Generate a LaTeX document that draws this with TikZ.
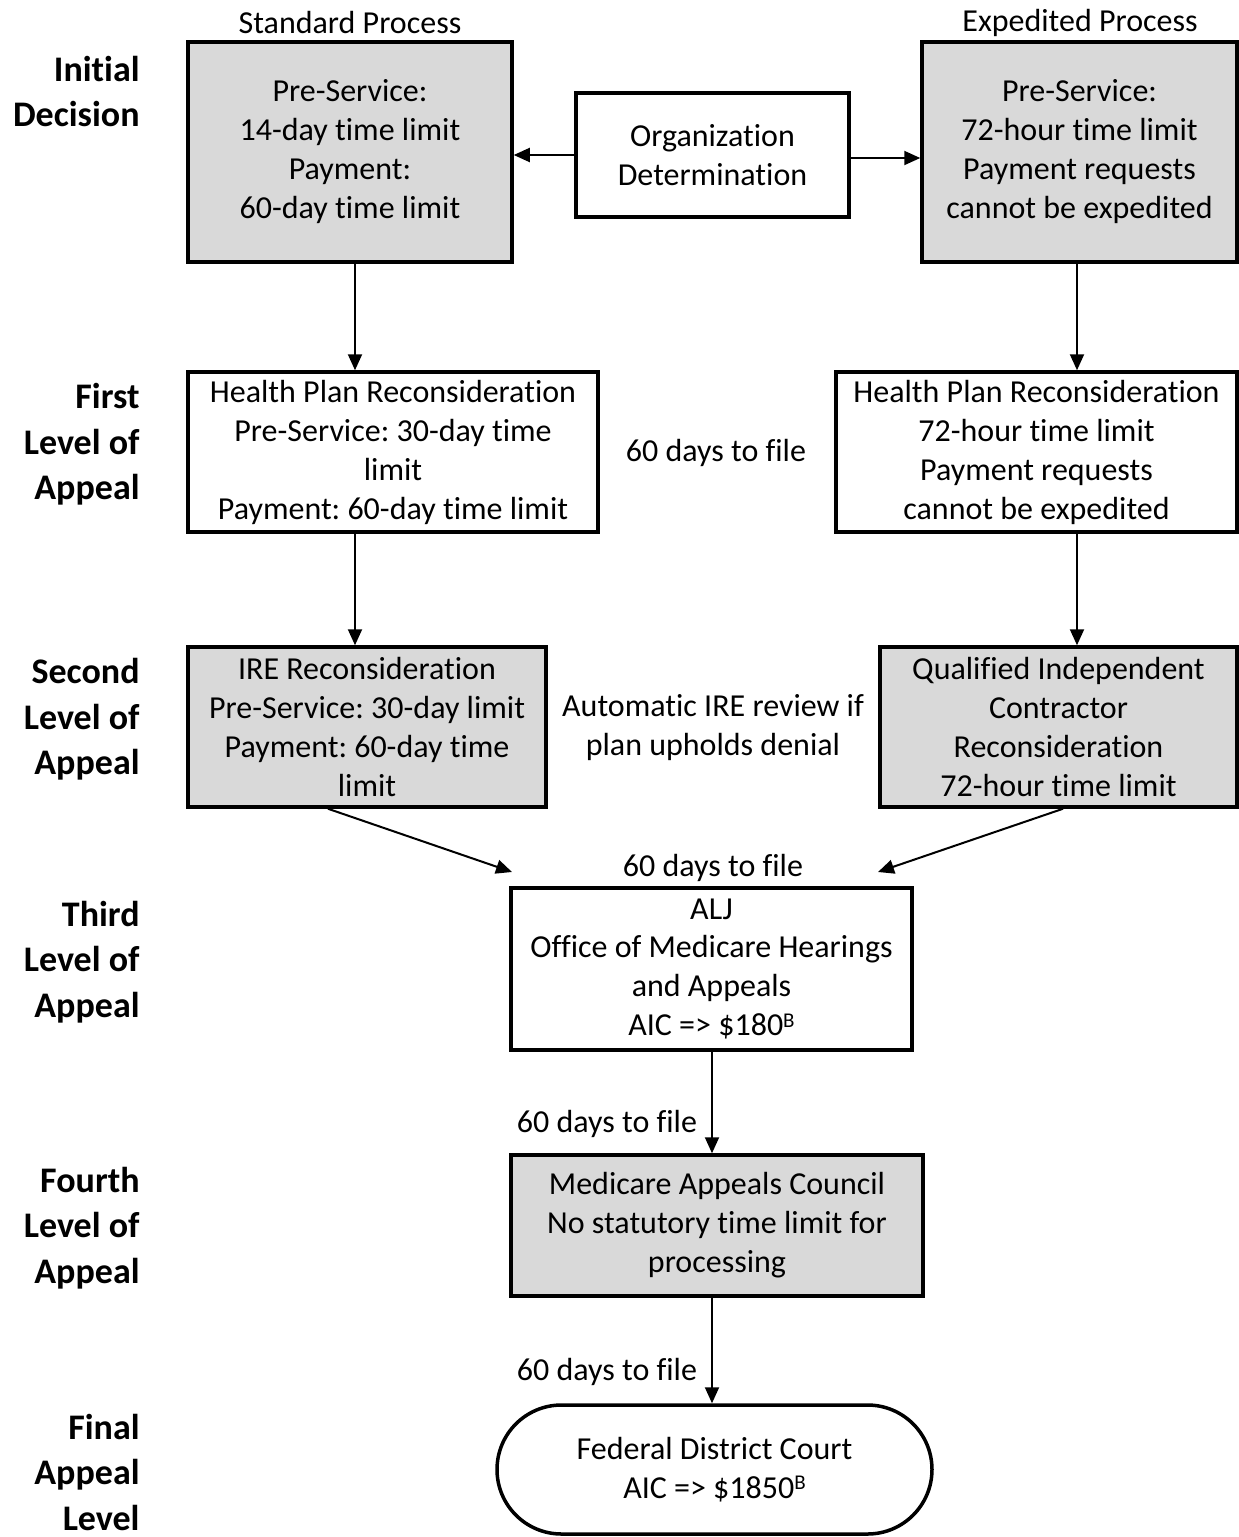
\documentclass[tikz,border=0pt]{standalone}
\usepackage{fontspec}
\setmainfont{Carlito}[Ligatures={NoCommon,NoContextual}]
\usetikzlibrary{arrows.meta,shapes.misc}
\definecolor{boxgray}{HTML}{D9D9D9}
\newcommand{\supB}{\raisebox{0.55ex}{\fontsize{10.5}{10.5}\selectfont B}}
\frenchspacing
\begin{document}
\begin{tikzpicture}[x=0.5pt,y=-0.5pt,
  bodytext/.style={font=\fontsize{16}{19.5}\selectfont, align=center, inner sep=0pt},
  lvl/.style={font=\fontsize{18}{22.75}\selectfont\bfseries, align=right, inner sep=0pt, anchor=east},
  wbox/.style={bodytext, draw, line width=1.75pt},
  gbox/.style={wbox, fill=boxgray},
  arr/.style={line width=1pt, -{Triangle[length=8pt,width=7pt]}}]
\useasboundingbox (0,0) rectangle (1238,1537);

% headers
\node[bodytext] (hstd) at (350,23) {Standard Process};
\node[bodytext] (hexp) at (1080,23) {Expedited Process};

% level labels
\node[lvl] (l0) at (140,91.5) {Initial\\Decision};
\node[lvl] (l1) at (140,444.5) {First\\Level of\\Appeal};
\node[lvl] (l2) at (140,719.5) {Second\\Level of\\Appeal};
\node[lvl] (l3) at (140,962) {Third\\Level of\\Appeal};
\node[lvl] (l4) at (140,1228) {Fourth\\Level of\\Appeal};
\node[lvl] (l5) at (140,1472) {Final\\Appeal\\Level};

% boxes
\node[gbox, minimum width=162pt, minimum height=110pt] (stdinit) at (350,152)
  {Pre-Service:\\14-day time limit\\Payment:\\60-day time limit};
\node[wbox, minimum width=136.5pt, minimum height=62pt] (org) at (712.5,155)
  {Organization\\Determination};
\node[gbox, minimum width=157.5pt, minimum height=110pt] (expinit) at (1079.5,152)
  {Pre-Service:\\72-hour time limit\\Payment requests\\cannot be expedited};

\node[wbox, minimum width=205pt, minimum height=80pt] (firststd) at (393,452)
  {Health Plan Reconsideration\\Pre-Service: 30-day time\\limit\\Payment: 60-day time limit};
\node[wbox, minimum width=200.5pt, minimum height=80pt] (firstexp) at (1036.5,452)
  {Health Plan Reconsideration\\72-hour time limit\\Payment requests\\cannot be expedited};
\node[bodytext] (file1) at (716,453) {60 days to file};

\node[gbox, minimum width=179pt, minimum height=80pt] (secstd) at (367,727)
  {IRE Reconsideration\\Pre-Service: 30-day limit\\Payment: 60-day time\\limit};
\node[gbox, minimum width=178.5pt, minimum height=80pt] (secexp) at (1058.5,727)
  {Qualified Independent\\Contractor\\Reconsideration\\72-hour time limit};
\node[bodytext] (auto) at (713,728) {Automatic IRE review if\\plan upholds denial};

\node[bodytext] (file2) at (713,868) {60 days to file};
\node[wbox, minimum width=200.5pt, minimum height=81pt] (alj) at (711.5,969)
  {ALJ\\Office of Medicare Hearings\\and Appeals\\AIC => \$180\supB};

\node[gbox, minimum width=206pt, minimum height=70.5pt] (mac) at (717,1225.5)
  {Medicare Appeals Council\\No statutory time limit for\\processing};
\node[bodytext] (file3) at (607,1124) {60 days to file};

\node[wbox, rounded rectangle, minimum width=217.5pt, minimum height=64.5pt] (fdc) at (714.5,1469.5)
  {Federal District Court\\AIC => \$1850\supB};
\node[bodytext] (file4) at (607,1372) {60 days to file};

% column coordinates
\coordinate (colL) at (355,0);
\coordinate (colR) at (1077,0);
\coordinate (colM) at (712,0);
\coordinate (dlS) at (328,0);
\coordinate (drS) at (1063,0);
\coordinate (dlE) at (512,872);
\coordinate (drE) at (878,872);
\coordinate (orgR) at ([yshift=-1.5pt]org.east);

% connectors
\draw[arr] (org.west) -- (stdinit.east |- org.west);
\draw[arr] (orgR) -- (expinit.west |- orgR);
\draw[arr] (stdinit.south -| colL) -- (firststd.north -| colL);
\draw[arr] (expinit.south -| colR) -- (firstexp.north -| colR);
\draw[arr] (firststd.south -| colL) -- (secstd.north -| colL);
\draw[arr] (firstexp.south -| colR) -- (secexp.north -| colR);
\draw[arr] (secstd.south -| dlS) -- (dlE);
\draw[arr] (secexp.south -| drS) -- (drE);
\draw[arr] (alj.south -| colM) -- (mac.north -| colM);
\draw[arr] (mac.south -| colM) -- (fdc.north -| colM);
\end{tikzpicture}
\end{document}
